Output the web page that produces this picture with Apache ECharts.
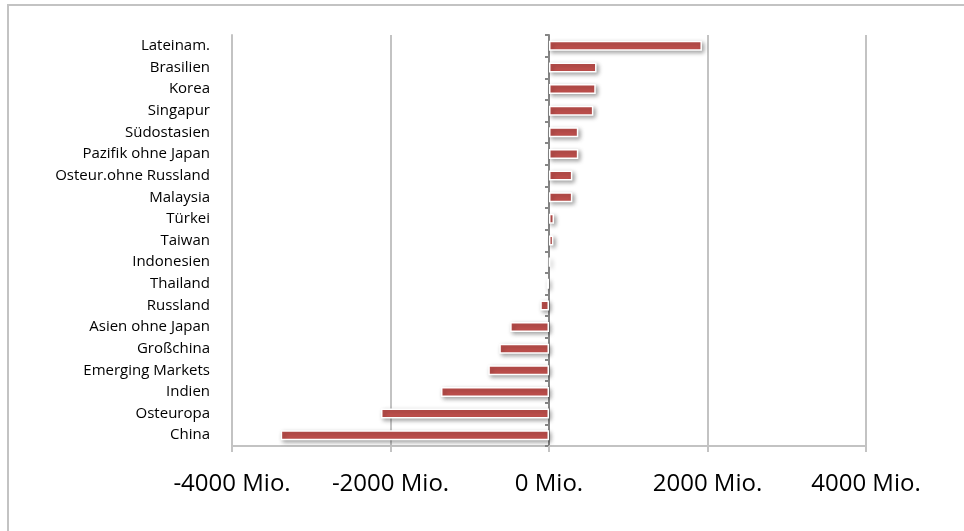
<!DOCTYPE html>
<html>
<head>
<meta charset="utf-8">
<script src="https://cdn.jsdelivr.net/npm/echarts@6/dist/echarts.min.js"></script>
<style>
html,body{margin:0;padding:0;background:#fff;}
#chart{width:964px;height:531px;}
</style>
</head>
<body>
<div id="chart"></div>
<script>
const categories = ["Lateinam.","Brasilien","Korea","Singapur","Südostasien","Pazifik ohne Japan","Osteur.ohne Russland","Malaysia","Türkei","Taiwan","Indonesien","Thailand","Russland","Asien ohne Japan","Großchina","Emerging Markets","Indien","Osteuropa","China"];
const values = [1930,600,590,560,370,370,295,295,63,55,12,-30,-110,-490,-627,-766,-1363,-2120,-3386];
const xTicks = [-4000,-2000,0,2000,4000];

const font = "'Open Sans', 'DejaVu Sans', sans-serif";
const chart = echarts.init(document.getElementById('chart'));
chart.setOption({
  animation:false,
  backgroundColor:'#fff',
  graphic:[{type:'rect',shape:{x:8,y:5,width:1000,height:600},style:{fill:'none',stroke:'#c3c3c3',lineWidth:2},silent:true}],
  grid:{left:232,right:98,top:35,bottom:85,containLabel:false},
  xAxis:{
    type:'value',min:xTicks[0],max:xTicks[xTicks.length-1],interval:2000,
    axisLine:{show:true,onZero:false,lineStyle:{color:'#c3c3c3',width:2}},
    axisTick:{show:true,length:6,lineStyle:{color:'#c3c3c3',width:2}},
    splitLine:{show:true,lineStyle:{color:'#c3c3c3',width:2}},
    axisLabel:{formatter:function(v){return String(v)+' Mio.';},fontFamily:font,fontSize:24,color:'#000',margin:26}
  },
  yAxis:[{
    type:'category',data:categories,inverse:true,position:'left',
    axisLine:{show:true,onZero:false,lineStyle:{color:'#c3c3c3',width:2}},
    axisTick:{show:false},
    axisLabel:{fontFamily:font,fontSize:15,color:'#000',margin:22}
  },{
    type:'category',data:categories,inverse:true,position:'left',
    axisLine:{show:true,onZero:true,onZeroAxisIndex:0,lineStyle:{color:'#868686',width:2}},
    axisTick:{show:true,length:4,lineStyle:{color:'#868686',width:2}},
    axisLabel:{show:false}
  }],
  series:[{
    type:'bar',data:values,yAxisIndex:0,barWidth:10,
    itemStyle:{color:'#C0504D',borderColor:'#ffffff',borderWidth:1.5,shadowColor:'rgba(0,0,0,0.35)',shadowBlur:4,shadowOffsetX:2,shadowOffsetY:2}
  }]
});
</script>
</body>
</html>
